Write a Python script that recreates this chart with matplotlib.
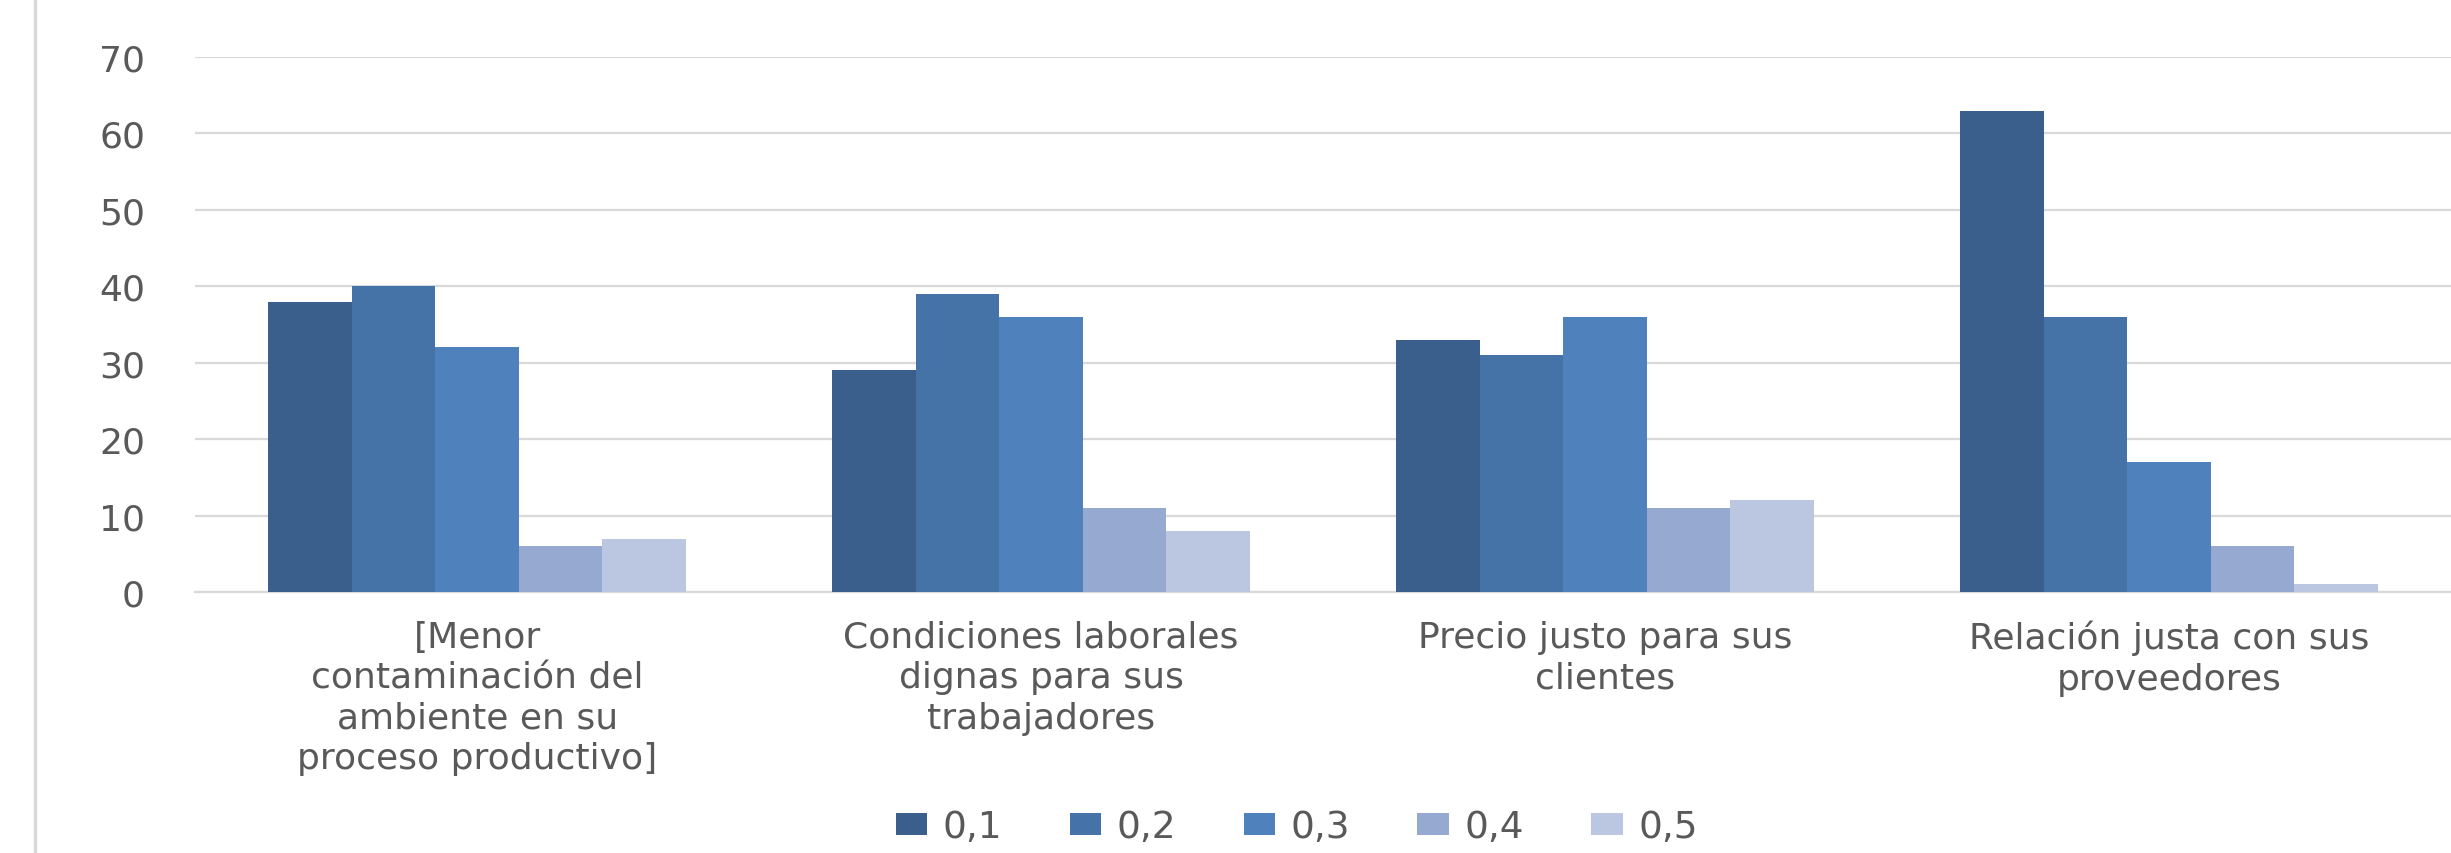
import numpy as np
import matplotlib
matplotlib.use("Agg")
import matplotlib.pyplot as plt
from matplotlib.lines import Line2D

# data
categories = [
    "[Menor\ncontaminación del\nambiente en su\nproceso productivo]",
    "Condiciones laborales\ndignas para sus\ntrabajadores",
    "Precio justo para sus\nclientes",
    "Relación justa con sus\nproveedores",
]
series_names = ["0,1", "0,2", "0,3", "0,4", "0,5"]
s01 = [38, 29, 33, 63]
s02 = [40, 39, 31, 36]
s03 = [32, 36, 36, 17]
s04 = [6, 11, 11, 6]
s05 = [7, 8, 12, 1]
series = [s01, s02, s03, s04, s05]
colors = ["#3B5F8C", "#4673A7", "#4F81BC", "#96A9D0", "#BBC7E0"]

plt.rcParams['font.family'] = ['DejaVu Sans']
txt = "#595959"
grid = "#D9D9D9"

fig = plt.figure(figsize=(24.51, 8.54), dpi=100)
ax = fig.add_axes([0.0796, 0.3056, 0.9204, 0.6264])

x = np.arange(len(categories))
w = 0.148
for i, (vals, name, c) in enumerate(zip(series, series_names, colors)):
    ax.bar(x + (i - 2) * w, vals, w, color=c, label=name, zorder=3)

ax.set_xlim(-0.5, 3.5)
ax.set_ylim(0, 70)
ax.set_yticks(range(0, 71, 10))
ax.yaxis.grid(True, color=grid, linewidth=1.6, zorder=0)
ax.set_axisbelow(True)
for s in ["top", "right", "left"]:
    ax.spines[s].set_visible(False)
ax.spines["bottom"].set_color(grid)
ax.spines["bottom"].set_linewidth(1.6)

ax.set_xticks(x)
ax.set_xticklabels(categories, fontsize=26, color=txt, linespacing=1.24)
ax.tick_params(axis="x", length=0, pad=20)
ax.tick_params(axis="y", length=0, pad=36, labelsize=26, labelcolor=txt)

leg = fig.legend(loc="center", bbox_to_anchor=(0.529, 0.03), ncol=5, frameon=False,
                 fontsize=27, handlelength=0.85, handleheight=0.55, handletextpad=0.4,
                 columnspacing=1.8, labelcolor=txt)

# grey chart border on the left
fig.add_artist(Line2D([0.0143, 0.0143], [0, 1], transform=fig.transFigure,
                      color=grid, linewidth=2.5))

fig.savefig("out.png", dpi=100)
